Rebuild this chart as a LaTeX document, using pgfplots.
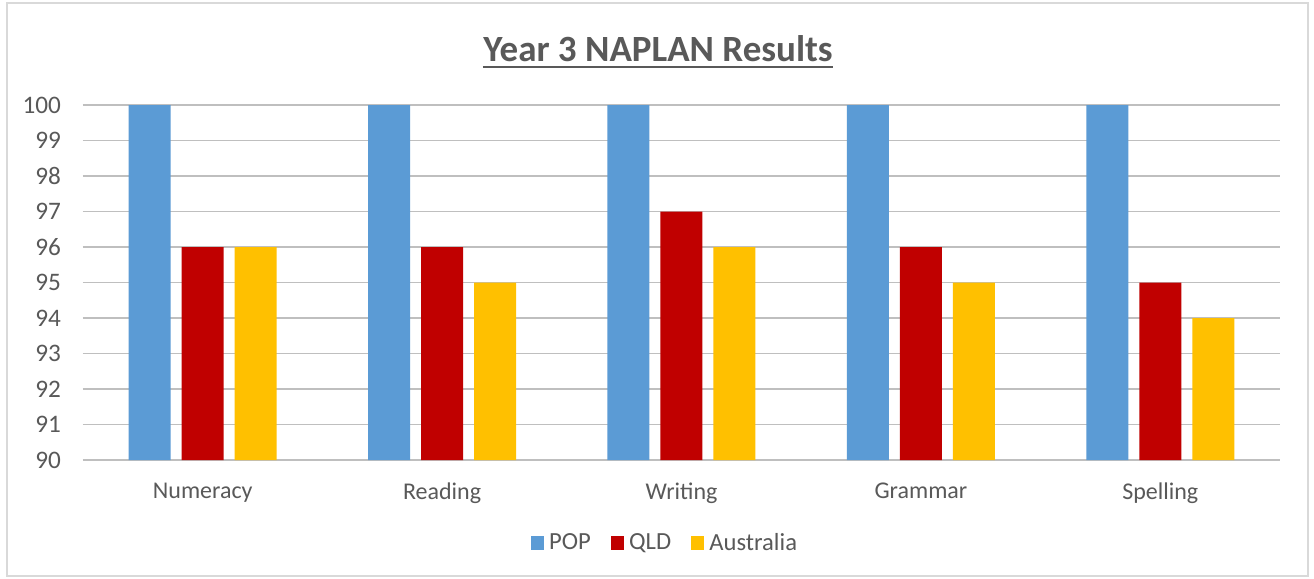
\documentclass[border=0pt]{standalone}
\usepackage{fontspec}
\setmainfont{Carlito}
\usepackage{pgfplots}
\pgfplotsset{compat=1.18}
\definecolor{popc}{HTML}{5B9BD5}
\definecolor{qldc}{HTML}{C00000}
\definecolor{ausc}{HTML}{FFC000}
\definecolor{txt}{HTML}{595959}
\definecolor{grid}{HTML}{D9D9D9}
\begin{document}
\begin{tikzpicture}[x=0.5pt,y=-0.5pt]
\useasboundingbox (0,0) rectangle (1314,579);
\fill[white] (0,0) rectangle (1314,579);
\draw[grid, line width=0.75pt] (7,3) rectangle (1308,576);
\node[text=txt, inner sep=0pt, font=\bfseries\fontsize{18.5}{22}\selectfont] (t) at (658,49) {Year 3 NAPLAN Results};
\draw[txt, line width=1.1pt] ([yshift=-2.6pt]t.base west) -- ([yshift=-2.6pt]t.base east);
\begin{axis}[
  at={(41.5pt,-230pt)}, anchor=south west,
  scale only axis, width=598.5pt, height=177.5pt,
  ybar=5.5pt, bar width=21pt,
  xmin=-0.5, xmax=4.5, ymin=90, ymax=100,
  xtick=data, xticklabels={Numeracy,Reading,Writing,Grammar,Spelling},
  ytick={90,91,...,100},
  xmajorgrids=false, ymajorgrids=true, grid style={grid, line width=0.75pt},
  axis line style={draw=none},
  tick style={draw=none},
  major tick length=0pt,
  tick label style={text=txt, font=\fontsize{12}{14}\selectfont},
  yticklabel style={font=\fontsize{12.6}{15}\selectfont, xshift=-7.5pt},
  xticklabel style={yshift=-8pt},
  /pgf/number format/assume math mode=true,
  legend style={at={(0.4875,-0.234)}, anchor=center, draw=none, fill=none,
    legend columns=3, font=\fontsize{12.3}{14}\selectfont, text=txt,
    nodes={inner xsep=2.5pt},
    /tikz/every even column/.append style={column sep=7.5pt}},
  legend image code/.code={\fill[#1] (0pt,-3.3pt) rectangle (6.6pt,3.3pt);},
  clip=true,
]
\addplot[fill=popc, draw=none] coordinates {(0,100) (1,100) (2,100) (3,100) (4,100)};
\addplot[fill=qldc, draw=none] coordinates {(0,96) (1,96) (2,97) (3,96) (4,95)};
\addplot[fill=ausc, draw=none] coordinates {(0,96) (1,95) (2,96) (3,95) (4,94)};
\legend{POP,QLD,Australia}
\end{axis}
\end{tikzpicture}
\end{document}
